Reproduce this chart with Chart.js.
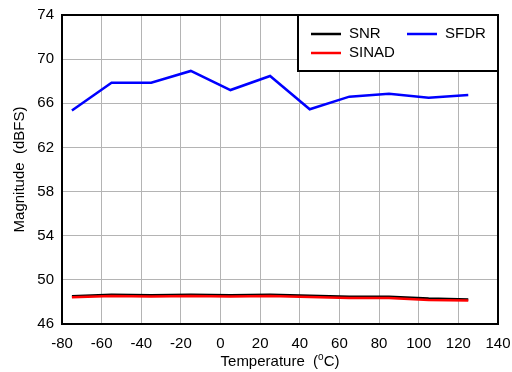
<!DOCTYPE html>
<html>
<head>
<meta charset="utf-8">
<script src="https://cdn.jsdelivr.net/npm/chart.js@4"></script>
<style>
  html, body { margin: 0; padding: 0; background: #fff; }
  #wrap { width: 512px; height: 372px; }
</style>
</head>
<body>
<div id="wrap"><canvas id="resultChart" width="512" height="372"></canvas></div>
<script>
// temperature points (degC)
const temps = [-75, -55, -35, -15, 5, 25, 45, 65, 85, 105, 125];
const snr   = [48.52, 48.64, 48.6, 48.64, 48.6, 48.64, 48.55, 48.46, 48.46, 48.3, 48.22];
const sinad = [48.42, 48.54, 48.5, 48.54, 48.5, 48.54, 48.45, 48.36, 48.36, 48.18, 48.12];
const sfdr  = [65.35, 67.87, 67.87, 68.93, 67.2, 68.47, 65.46, 66.6, 66.87, 66.51, 66.75];
const xTicks = [-80, -60, -40, -20, 0, 20, 40, 60, 80, 100, 120, 140];
const yTicks = [46, 50, 54, 58, 62, 66, 70, 74];

const FONT = "Liberation Sans, Arial, sans-serif";
const ctx = document.getElementById("resultChart");

function toPoints(ys) {
    return temps.map((t, i) => ({ x: t, y: ys[i] }));
}

// frame, legend box and axis titles
const extras = {
    id: "extras",
    afterDraw(chart) {
        const c = chart.ctx;
        const a = chart.chartArea;
        c.save();
        c.strokeStyle = "#000";
        c.lineWidth = 2;
        c.strokeRect(a.left, a.top, a.right - a.left, a.bottom - a.top);

        // legend
        const lw = 200, lh = 56;
        const lx = a.right - lw, ly = a.top;
        c.fillStyle = "#fff";
        c.fillRect(lx, ly, lw, lh);
        c.strokeRect(lx, ly, lw, lh);
        const items = [
            { label: "SNR", color: "#000", x: lx + 13, y: ly + 19 },
            { label: "SFDR", color: "#0000ff", x: lx + 109, y: ly + 19 },
            { label: "SINAD", color: "#ff0000", x: lx + 13, y: ly + 38 }
        ];
        c.font = "15px " + FONT;
        c.textBaseline = "middle";
        c.textAlign = "left";
        items.forEach(it => {
            c.strokeStyle = it.color;
            c.lineWidth = 2.5;
            c.beginPath();
            c.moveTo(it.x, it.y);
            c.lineTo(it.x + 30, it.y);
            c.stroke();
            c.fillStyle = "#000";
            c.fillText(it.label, it.x + 38, it.y);
        });

        // y axis title
        c.save();
        c.translate(20, (a.top + a.bottom) / 2);
        c.rotate(-Math.PI / 2);
        c.textAlign = "center";
        c.font = "15px " + FONT;
        c.fillText("Magnitude  (dBFS)", 0, 0);
        c.restore();

        // x axis title: Temperature  (oC) with superscript o
        const parts1 = "Temperature  (";
        const supTxt = "o";
        const parts2 = "C)";
        c.font = "15px " + FONT;
        const w1 = c.measureText(parts1).width;
        const w3 = c.measureText(parts2).width;
        c.font = "10px " + FONT;
        const w2 = c.measureText(supTxt).width;
        const total = w1 + w2 + w3;
        let tx = (a.left + a.right) / 2 - total / 2;
        const ty = 362;
        c.fillStyle = "#000";
        c.textAlign = "left";
        c.textBaseline = "middle";
        c.font = "15px " + FONT;
        c.fillText(parts1, tx, ty);
        tx += w1;
        c.font = "10px " + FONT;
        c.fillText(supTxt, tx, ty - 5);
        tx += w2;
        c.font = "15px " + FONT;
        c.fillText(parts2, tx, ty);
        c.restore();
    }
};

const chartInstance = new Chart(ctx, {
    type: "line",
    data: {
        datasets: [
            {
                label: "SNR",
                data: toPoints(snr),
                borderColor: "#000000",
                backgroundColor: "#000000",
                borderWidth: 2.5,
                order: 2
            },
            {
                label: "SINAD",
                data: toPoints(sinad),
                borderColor: "#ff0000",
                backgroundColor: "#ff0000",
                borderWidth: 2.5,
                order: 1
            },
            {
                label: "SFDR",
                data: toPoints(sfdr),
                borderColor: "#0000ff",
                backgroundColor: "#0000ff",
                borderWidth: 2.5,
                order: 0
            }
        ]
    },
    options: {
        responsive: false,
        animation: false,
        events: [],
        fill: false,
        radius: 0,
        layout: { padding: { top: 15, right: 14, left: 0, bottom: 0 } },
        plugins: {
            legend: { display: false },
            tooltip: { enabled: false }
        },
        scales: {
            x: {
                type: "linear",
                min: -80,
                max: 140,
                afterBuildTicks: (s) => { s.ticks = xTicks.map(v => ({ value: v })); },
                afterFit: (s) => { s.height = 48; s.paddingLeft = 0; s.paddingRight = 0; },
                grid: { color: "#b4b4b4", lineWidth: 1, drawTicks: false },
                border: { display: false },
                ticks: {
                    color: "#000",
                    font: { family: FONT, size: 15 },
                    padding: 11,
                    maxRotation: 0,
                    autoSkip: false
                },
                title: { display: false }
            },
            y: {
                type: "linear",
                min: 46,
                max: 74,
                afterBuildTicks: (s) => { s.ticks = yTicks.map(v => ({ value: v })); },
                afterFit: (s) => { s.width = 62; s.paddingTop = 0; s.paddingBottom = 0; },
                grid: { color: "#b4b4b4", lineWidth: 1, drawTicks: false },
                border: { display: false },
                ticks: {
                    color: "#000",
                    font: { family: FONT, size: 15 },
                    padding: 8,
                    autoSkip: false
                },
                title: { display: false }
            }
        }
    },
    plugins: [extras]
});
</script>
</body>
</html>
